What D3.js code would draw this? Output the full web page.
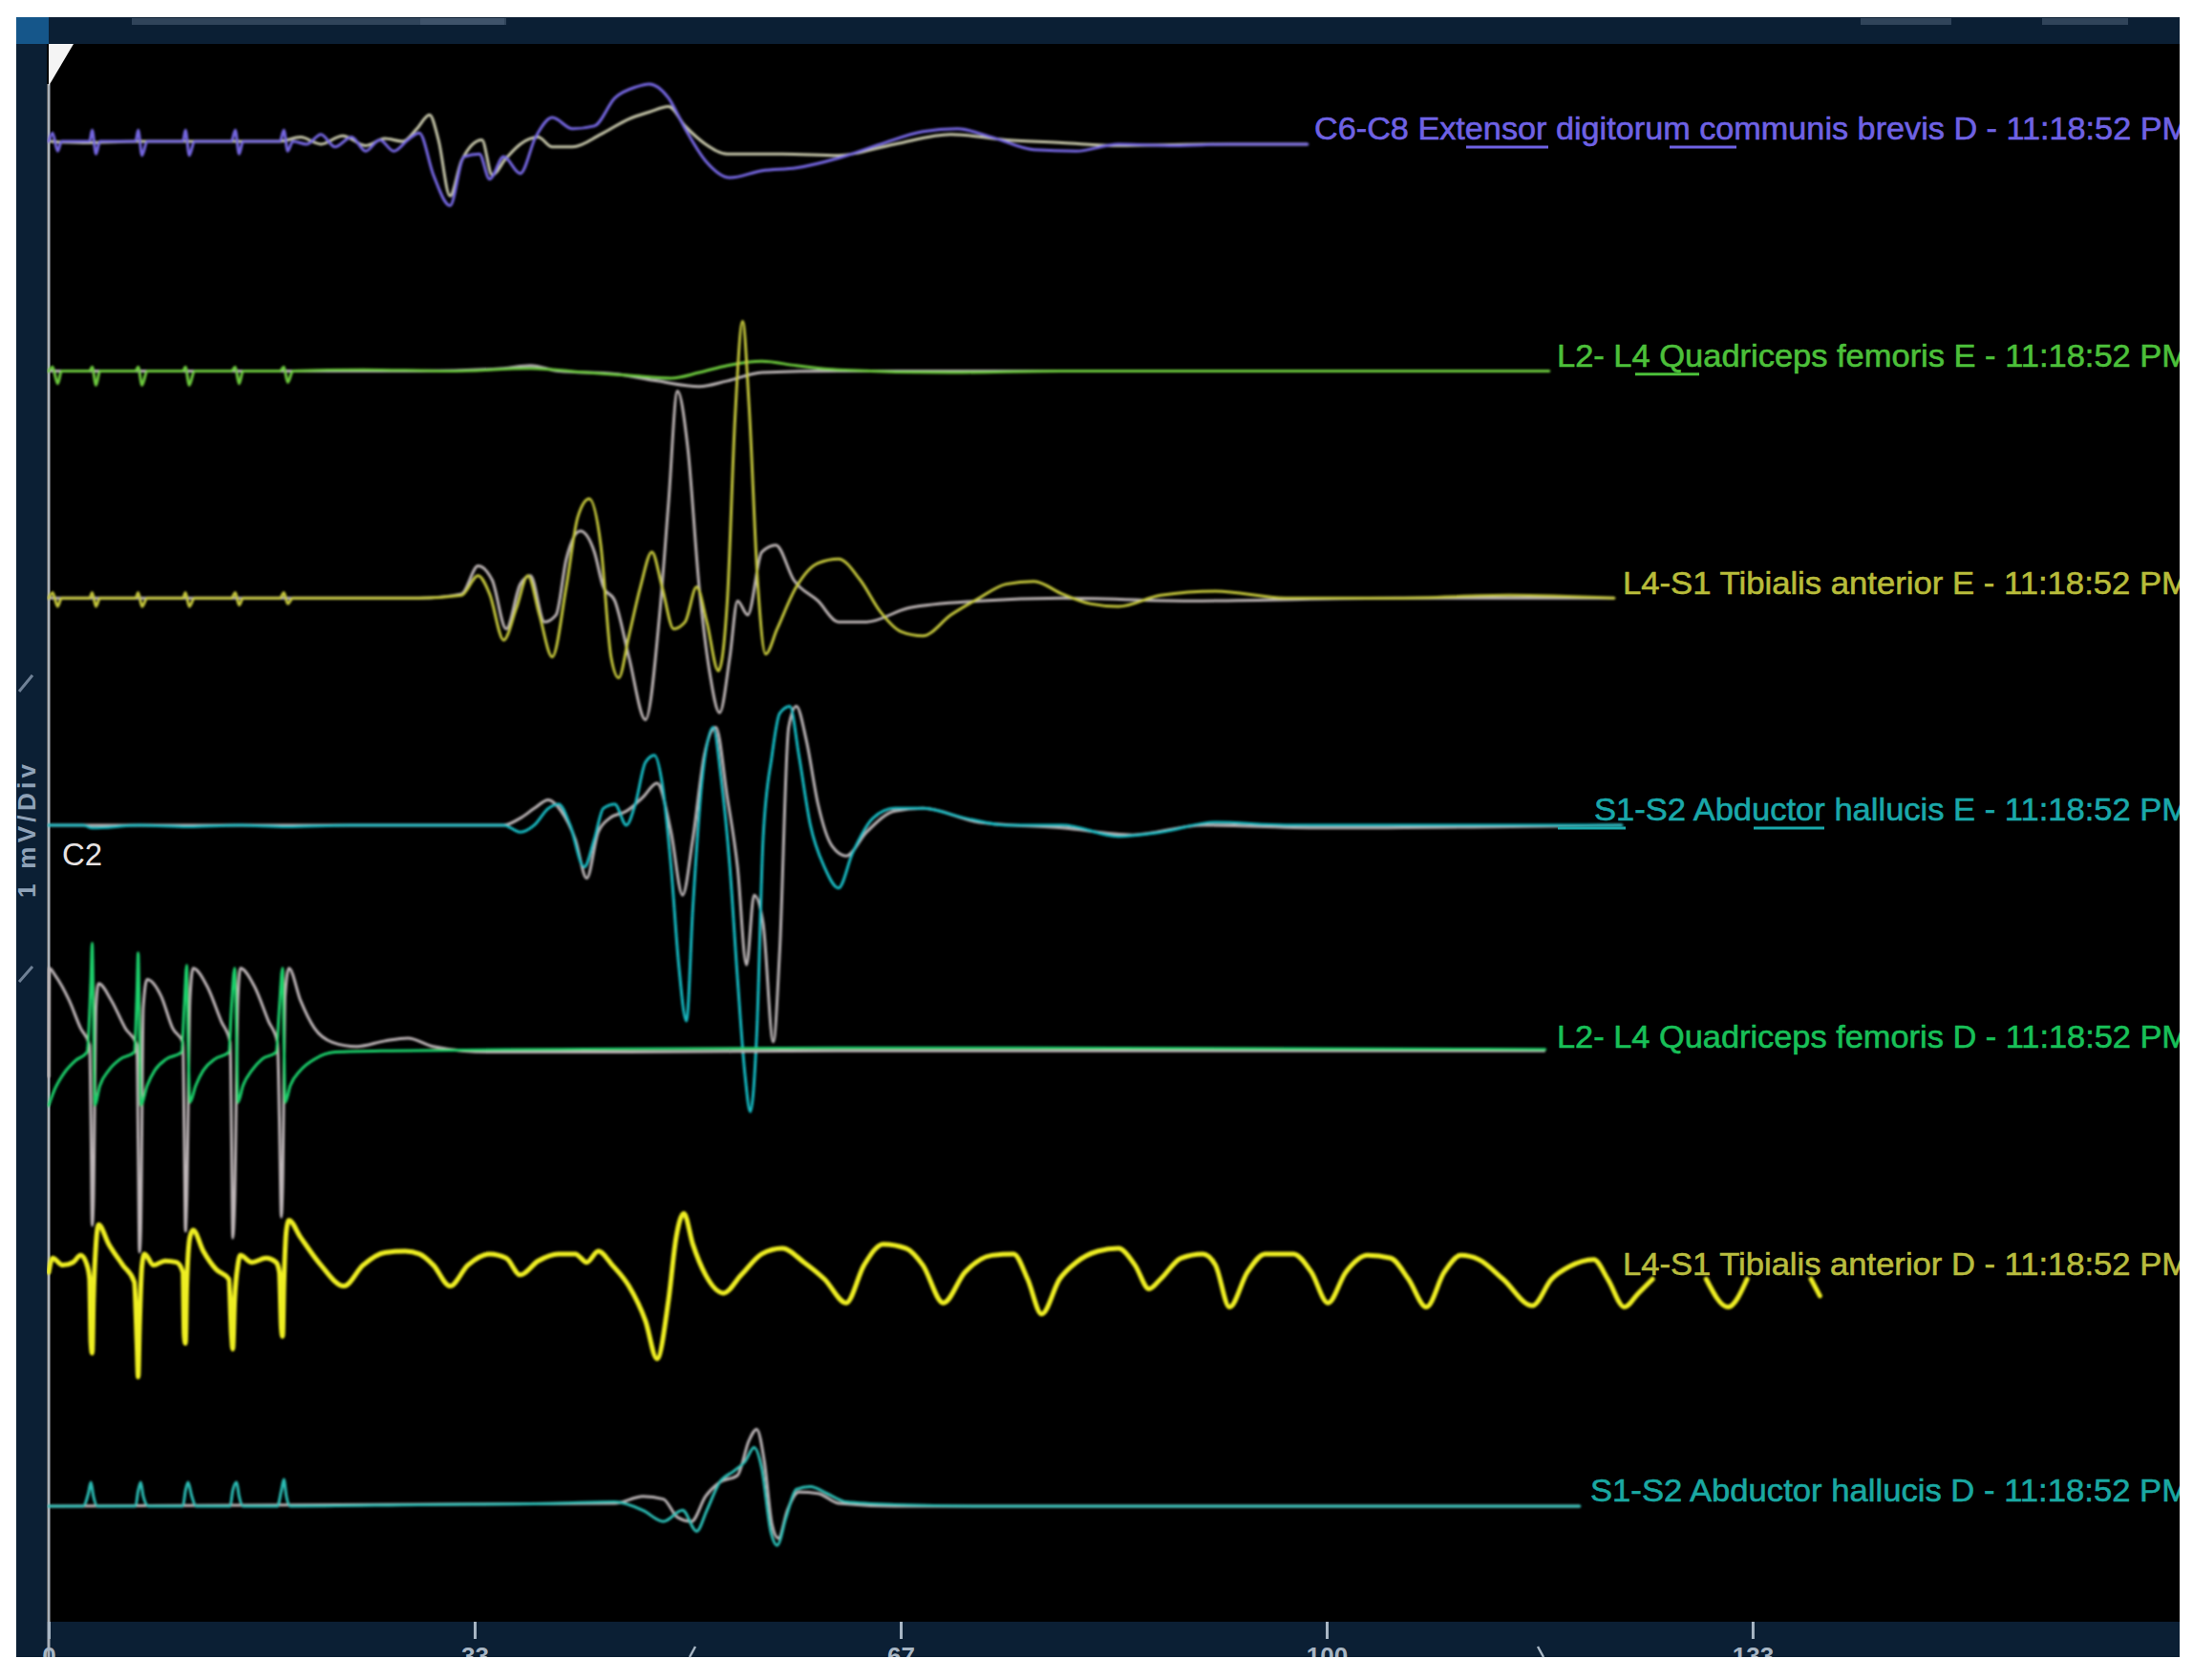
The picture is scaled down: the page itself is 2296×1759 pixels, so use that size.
<!DOCTYPE html>
<html>
<head>
<meta charset="utf-8">
<script src="https://cdn.jsdelivr.net/npm/d3@7"></script>
<style>
  html, body { margin: 0; padding: 0; background: #fff; }
  svg { display: block; }
  text { font-family: "Liberation Sans", Arial, sans-serif; }
</style>
</head>
<body>
<script>
// channels, top to bottom
let channels = [
  'C6-C8 Extensor digitorum communis brevis D',
  'L2- L4 Quadriceps femoris E',
  'L4-S1 Tibialis anterior E',
  'S1-S2 Abductor hallucis E',
  'L2- L4 Quadriceps femoris D',
  'L4-S1 Tibialis anterior D',
  'S1-S2 Abductor hallucis D'
]
let stamp = ' - 11:18:52 PM'

// time axis (ms)
let timeTicks = [0, 33.33, 66.67, 100, 133.33]
let timeLabels = ['0', '33', '67', '100', '133']

// traces: [ms, uV], current sweep and grey reference sweep
let edcD = [[0,0],[0.3,6],[0.7,-7],[1.0,0],[3.2,0],[3.4,8],[3.7,-9],[4.0,0],[6.8,0],[7.0,8],[7.3,-10],[7.7,0],[10.5,0],[10.7,8],[11.0,-10],[11.4,0],[14.3,0],[14.6,8],[14.9,-9],[15.2,0],[18.1,0],[18.4,8],[18.7,-7],[19.1,0],[20.2,-2],[21.3,5],[22.4,-4],[23.7,3],[24.8,-7],[25.9,1],[27.0,-7],[28.1,1],[29.0,6],[30.1,-24],[31.4,-46],[32.5,-11],[33.7,-9],[34.5,-27],[35.6,-11],[36.9,-23],[38.1,3],[39.4,17],[41.0,9],[42.7,11],[44.3,31],[46.0,39],[47.0,41],[48.5,31],[49.8,9],[51.4,-14],[53.3,-26],[55.8,-21],[58.5,-19],[61.8,-12],[65.1,-2],[68.4,7],[71.1,9],[73.8,3],[77.1,-6],[80.4,-7],[83.7,-2],[88.1,-3],[92.4,-2],[98.5,-2]]
let edcDref = [[0,0],[2.7,-1],[7.1,0],[11.5,0],[18.1,0],[19.7,3],[21.3,-2],[23.0,4],[24.8,-3],[26.3,2],[27.7,0],[28.8,9],[29.8,19],[30.5,1],[31.4,-39],[32.3,-14],[33.9,1],[34.7,-24],[35.8,-12],[36.9,-2],[38.3,3],[39.4,-4],[41.0,-4],[43.2,5],[45.4,16],[47.0,21],[48.5,25],[49.8,11],[51.4,-2],[53.1,-9],[57.4,-9],[61.8,-10],[66.2,-2],[70.6,5],[74.9,1],[79.3,-1],[83.7,-3],[90.3,-2],[98.5,-2]]

let quadE = [[0,-2],[0.3,1],[0.7,-11],[1.0,-2],[3.2,-2],[3.4,1],[3.7,-12],[4.0,-2],[6.8,-2],[7.0,1],[7.3,-12],[7.7,-2],[10.5,-2],[10.7,1],[11.0,-12],[11.4,-2],[14.3,-2],[14.6,1],[14.9,-11],[15.2,-2],[18.1,-2],[18.4,1],[18.7,-10],[19.1,-2],[24.6,-1],[31.2,-2],[37.7,0],[42.1,-3],[45.4,-5],[48.7,-7],[50.9,-3],[53.1,2],[55.8,5],[58.5,2],[61.8,-1],[70.6,-3],[79.3,-2],[94.6,-2],[117.4,-2]]
let quadEref = [[0,-2],[18.1,-2],[29.0,-2],[35.6,0],[37.7,2],[39.9,-2],[44.3,-4],[47.6,-9],[50.9,-13],[53.1,-9],[55.8,-3],[61.8,-2],[117.4,-2]]

let tibE = [[0,-2],[0.3,2],[0.7,-8],[1.0,-2],[3.2,-2],[3.4,2],[3.7,-8],[4.0,-2],[6.8,-2],[7.0,2],[7.3,-8],[7.7,-2],[10.5,-2],[10.7,2],[11.0,-8],[11.4,-2],[14.3,-2],[14.6,2],[14.9,-7],[15.2,-2],[18.1,-2],[18.4,2],[18.7,-6],[19.1,-2],[29.0,-2],[32.3,0],[33.6,14],[34.5,1],[35.6,-32],[36.6,-9],[37.5,14],[38.4,-14],[39.4,-44],[40.5,6],[41.4,56],[42.3,69],[43.2,36],[44.0,-44],[44.6,-59],[45.4,-29],[46.3,6],[47.2,31],[48.0,6],[48.9,-24],[49.8,-19],[50.7,6],[51.5,-19],[52.4,-54],[53.1,-4],[53.7,126],[54.3,196],[54.8,136],[55.5,6],[56.1,-42],[57.0,-24],[58.5,6],[60.2,23],[61.8,26],[63.5,11],[65.1,-12],[66.7,-26],[68.4,-29],[70.6,-14],[72.8,-2],[74.9,8],[77.1,10],[79.3,1],[81.5,-6],[83.7,-8],[87.0,0],[91.3,3],[96.8,-2],[105.6,-2],[114.3,0],[122.5,-2]]
let tibEref = [[0,-2],[19.1,-2],[29.0,-2],[32.3,1],[33.6,21],[34.7,11],[35.8,-24],[36.9,8],[37.7,14],[38.8,-19],[39.7,-14],[40.5,26],[41.6,46],[42.7,31],[43.4,6],[44.3,-4],[45.4,-44],[46.7,-89],[47.8,-14],[48.5,66],[49.2,146],[50.0,106],[50.9,6],[51.7,-54],[52.5,-84],[53.3,-44],[53.9,-4],[54.7,-14],[55.8,31],[56.9,36],[58.3,11],[60.2,-4],[61.8,-19],[64.0,-19],[67.3,-9],[72.8,-4],[79.3,-2],[89.2,-4],[105.6,-2],[122.5,-2]]

let abdE = [[0,-2],[2.7,-2],[3.4,-4],[7.1,-2],[10.9,-3],[14.8,-2],[18.6,-3],[23.5,-2],[35.6,-2],[36.9,-7],[38.0,-2],[39.1,10],[39.9,13],[40.8,-2],[41.9,-32],[42.7,-12],[43.4,10],[44.3,13],[45.2,-2],[45.9,13],[46.7,43],[47.4,48],[48.0,28],[48.7,-32],[49.3,-102],[49.9,-142],[50.4,-62],[51.1,28],[52.0,68],[52.6,33],[53.3,-32],[53.9,-112],[54.5,-182],[54.9,-207],[55.4,-152],[55.9,-12],[56.6,48],[57.2,78],[58.0,83],[58.7,48],[59.6,-2],[60.7,-32],[61.8,-47],[62.9,-22],[64.5,3],[66.2,10],[68.4,10],[71.7,3],[74.9,-2],[79.3,-2],[83.7,-10],[87.0,-7],[91.3,0],[96.8,-2],[105.6,-2],[123.1,-2]]
let abdEref = [[0,-2],[23.5,-2],[35.6,-2],[36.9,3],[38.0,10],[39.1,16],[40.1,8],[41.2,-12],[42.1,-40],[43.0,-7],[43.9,3],[45.2,8],[46.5,18],[47.6,28],[48.7,-7],[49.6,-52],[50.4,-12],[51.3,48],[52.2,68],[53.1,18],[53.9,-32],[54.6,-102],[55.2,-52],[55.9,-72],[56.7,-157],[57.2,-92],[57.9,68],[58.5,83],[59.3,58],[60.2,13],[61.3,-17],[62.4,-24],[64.0,-7],[66.2,8],[68.4,10],[72.8,0],[79.3,-4],[84.8,-9],[90.3,-2],[100.1,-4],[123.1,-2]]

let quadD = [[0,-40],[0.5,-28],[1.2,-17],[2.1,-8],[3.0,-2],[3.3,50],[3.4,76],[3.5,30],[3.6,-40],[4.0,-26],[4.7,-15],[5.6,-7],[6.7,-2],[6.9,40],[7.0,69],[7.1,20],[7.2,-40],[7.7,-26],[8.3,-15],[9.2,-7],[10.4,-2],[10.6,30],[10.8,60],[10.9,10],[11.05,-38],[11.5,-26],[12.1,-15],[13.0,-7],[14.1,-2],[14.3,30],[14.55,58],[14.7,10],[14.8,-38],[15.2,-26],[15.9,-15],[16.7,-7],[17.8,-2],[18.05,30],[18.3,58],[18.4,10],[18.5,-38],[18.9,-26],[19.7,-15],[20.8,-7],[22.4,-2],[26.8,-1],[39.9,0],[61.8,1],[117.1,0]]
let quadDref = [[0,-20],[0.05,58],[0.5,53],[1.6,35],[2.5,15],[3.2,3],[3.3,-50],[3.4,-126],[3.5,-110],[3.7,30],[3.9,47],[4.9,35],[6.0,15],[6.9,3],[7.0,-70],[7.1,-145],[7.2,-130],[7.4,30],[7.7,50],[8.8,38],[9.7,15],[10.5,5],[10.6,-60],[10.7,-130],[10.8,-110],[11.05,35],[11.3,58],[12.4,45],[13.5,20],[14.2,5],[14.3,-60],[14.4,-135],[14.55,-110],[14.8,35],[15.0,58],[16.1,45],[17.2,20],[17.9,5],[18.05,-50],[18.2,-120],[18.3,-100],[18.5,38],[18.8,58],[19.7,35],[20.8,15],[22.2,5],[24.1,2],[26.3,6],[28.1,8],[30.1,2],[34.5,-2],[45.4,-2],[61.8,-1],[83.7,-1],[117.1,-1]]

// no reference sweep on this channel; null marks a gap in the trace
let tibD = [[0,3],[0.3,13],[1.1,8],[1.9,10],[2.5,15],[3.0,8],[3.2,-2],[3.3,-47],[3.4,-55],[3.5,-17],[3.7,23],[3.9,37],[4.7,23],[5.8,8],[6.7,-4],[6.9,-47],[7.0,-72],[7.1,-37],[7.3,8],[7.5,16],[8.2,8],[9.1,11],[10.0,10],[10.5,3],[10.6,-42],[10.7,-48],[10.8,-7],[11.05,28],[11.3,33],[12.1,18],[13.1,5],[14.1,-2],[14.3,-42],[14.4,-52],[14.55,-17],[14.8,8],[15.0,15],[15.9,10],[17.0,13],[17.8,10],[18.05,3],[18.2,-37],[18.3,-43],[18.4,-7],[18.6,33],[18.8,40],[19.7,28],[21.3,8],[23.1,-7],[24.6,8],[26.3,17],[27.9,18],[29.0,16],[30.1,8],[31.4,-7],[32.8,8],[34.5,16],[35.8,13],[36.9,1],[38.3,11],[39.9,16],[41.2,16],[42.1,10],[43.0,18],[44.1,8],[45.4,-7],[46.7,-32],[47.6,-59],[48.5,-17],[49.1,28],[49.7,45],[50.4,23],[51.4,1],[52.8,-12],[54.2,1],[55.8,16],[57.4,20],[59.1,10],[60.7,-2],[62.4,-19],[63.8,8],[65.3,23],[67.1,20],[68.4,8],[70.0,-19],[71.7,3],[73.8,15],[75.5,16],[76.6,-2],[77.7,-27],[79.1,-2],[80.4,10],[82.1,18],[83.7,20],[85.0,8],[86.1,-9],[87.0,-2],[88.6,13],[90.3,16],[91.3,8],[92.4,-22],[93.8,3],[95.2,16],[97.4,16],[98.8,3],[100.1,-19],[101.5,3],[103.2,15],[105.0,13],[106.4,-2],[107.8,-22],[109.2,3],[110.5,15],[111.9,12],[113.8,-2],[116.1,-21],[117.6,-2],[119.0,7],[120.9,12],[122.0,-2],[123.3,-22],[124.4,-12],[125.5,-2],[126,null],[129.7,-2],[131.4,-22],[132.9,-2],[134,null],[137.9,-2],[138.6,-14]]

let abdD = [[0,-2],[2.7,-2],[3.1,7],[3.3,15],[3.5,5],[3.8,-2],[6.8,-2],[7.0,9],[7.2,15],[7.4,5],[7.8,-2],[10.5,-2],[10.7,9],[10.9,15],[11.2,5],[11.5,-2],[14.2,-2],[14.4,9],[14.7,15],[14.9,5],[15.2,-2],[17.9,-2],[18.2,9],[18.4,17],[18.6,5],[18.9,-2],[29.0,-1],[39.9,0],[44.3,1],[46.5,-5],[48.1,-13],[49.6,-5],[50.7,-20],[51.5,-5],[52.5,15],[53.6,23],[54.5,30],[55.2,40],[55.8,25],[56.5,-20],[57.0,-30],[57.7,-10],[58.5,10],[59.6,12],[60.9,7],[62.4,1],[66.2,-1],[72.8,-2],[119.8,-2]]
let abdDref = [[0,-2],[44.3,0],[46.5,5],[48.1,3],[49.2,-10],[50.3,-13],[51.4,5],[52.5,15],[53.9,20],[54.8,45],[55.4,53],[56.0,30],[56.6,-15],[57.1,-25],[57.8,-5],[58.7,8],[60.2,7],[61.8,0],[66.2,-2],[119.8,-2]]

// styles
let colors = ['#7466e0', '#6cc83c', '#c2c43a', '#18b8c0', '#1ccf6a', '#eeee22', '#2cbcb4']
let labelColors = ['#6f62e4', '#4cc03a', '#b8bc3a', '#1aa8aa', '#18c058', '#b8bc3e', '#1aa8a2']
let greys = ['#c4c4a8', '#b8b2b2', '#bab2b2', '#b8b2b4', '#bcb4b6', null, '#b8b2b4']
let labelX = [1376, 1630, 1699, 1669, 1630, 1699, 1665]

let sweeps = [edcD, quadE, tibE, abdE, quadD, tibD, abdD]
let refs = [edcDref, quadEref, tibEref, abdEref, quadDref, null, abdDref]

let W = 2296, H = 1759
let panel = {left: 17, top: 18, right: 2282, bottom: 1735}
let plot = {left: 49, top: 46, right: 2282, bottom: 1698}

let svg = d3.select('body').append('svg')
  .attr('width', W)
  .attr('height', H)

svg.append('rect').attr('width', W).attr('height', H).attr('fill', '#fff')

let defs = svg.append('defs')
defs.append('clipPath').attr('id', 'plotclip')
  .append('rect')
  .attr('x', plot.left).attr('y', plot.top)
  .attr('width', plot.right - plot.left).attr('height', plot.bottom - plot.top)
defs.append('clipPath').attr('id', 'panelclip')
  .append('rect')
  .attr('x', panel.left).attr('y', panel.top)
  .attr('width', panel.right - panel.left).attr('height', panel.bottom - panel.top)

// soft edges like the captured screen
defs.append('filter').attr('id', 'soft')
  .append('feGaussianBlur').attr('stdDeviation', 0.8)

// frame of the acquisition window
svg.append('rect')
  .attr('x', panel.left).attr('y', panel.top)
  .attr('width', panel.right - panel.left).attr('height', panel.bottom - panel.top)
  .attr('fill', '#0b1f34')

svg.append('rect')
  .attr('x', panel.left).attr('y', panel.top)
  .attr('width', 34).attr('height', 28)
  .attr('fill', '#15568a')

// faint tabs in the header
;[[138, 390], [440, 90], [1948, 95], [2138, 90]].forEach(function (t) {
  svg.append('rect')
    .attr('x', t[0]).attr('y', panel.top + 1)
    .attr('width', t[1]).attr('height', 7)
    .attr('fill', '#4a5e74').attr('opacity', 0.6)
})

svg.append('rect')
  .attr('x', plot.left).attr('y', plot.top)
  .attr('width', plot.right - plot.left).attr('height', plot.bottom - plot.top)
  .attr('fill', '#000')

let x = d3.scaleLinear().domain([0, 166.67]).range([51, 2281])
let chanY = d3.scalePoint().domain(channels).range([148, 1574])
let amp = d3.scaleLinear().domain([0, 100]).range([0, -146.4])

// vertical reference line and marker
svg.append('line')
  .attr('x1', x(0)).attr('x2', x(0))
  .attr('y1', 88).attr('y2', panel.bottom)
  .attr('stroke', '#a9b0b8').attr('stroke-width', 3)

svg.append('path')
  .attr('d', 'M' + x(0) + ',' + plot.top + 'L' + (x(0) + 26) + ',' + plot.top + 'L' + x(0) + ',' + 90 + 'Z')
  .attr('fill', '#f4f4f4')

// left strip: gain and arrows
svg.append('text')
  .attr('transform', 'translate(37,940) rotate(-90)')
  .attr('fill', '#8fa2b8')
  .attr('font-size', 26)
  .attr('font-weight', 'bold')
  .attr('textLength', 140)
  .text('1 mV/Div')

svg.append('line').attr('x1', 20).attr('y1', 724).attr('x2', 34).attr('y2', 707)
  .attr('stroke', '#6f8196').attr('stroke-width', 3)
svg.append('line').attr('x1', 20).attr('y1', 1028).attr('x2', 34).attr('y2', 1012)
  .attr('stroke', '#6f8196').attr('stroke-width', 3)

svg.append('text')
  .attr('x', 65).attr('y', 906)
  .attr('fill', '#e6e2e2')
  .attr('font-size', 33)
  .text('C2')

let traces = svg.append('g')
  .attr('clip-path', 'url(#plotclip)')
  .append('g')
  .attr('filter', 'url(#soft)')

function lineFor(ch) {
  return d3.line()
    .defined(function (d) { return d[1] != null })
    .x(function (d) { return x(d[0]) })
    .y(function (d) { return chanY(ch) + amp(d[1]) })
    .curve(d3.curveMonotoneX)
}

channels.forEach(function (ch, i) {
  let line = lineFor(ch)
  if (refs[i]) {
    traces.append('path')
      .datum(refs[i])
      .attr('d', line)
      .attr('fill', 'none')
      .attr('stroke', greys[i])
      .attr('stroke-width', 3)
      .attr('stroke-linejoin', 'round')
  }
  traces.append('path')
    .datum(sweeps[i])
    .attr('d', line)
    .attr('fill', 'none')
    .attr('stroke', colors[i])
    .attr('stroke-width', i == 5 ? 5 : 3)
    .attr('stroke-linejoin', 'round')
    .attr('stroke-linecap', 'round')
})

// channel labels
let labels = svg.append('g').attr('clip-path', 'url(#plotclip)')
channels.forEach(function (ch, i) {
  labels.append('text')
    .attr('x', labelX[i])
    .attr('y', chanY(ch) - 14)
    .attr('dy', '0.36em')
    .attr('fill', labelColors[i])
    .attr('stroke', labelColors[i])
    .attr('stroke-width', 0.6)
    .attr('font-size', 34)
    .style('font-family', '"Liberation Sans Narrow", "Liberation Sans", Arial, sans-serif')
    .attr('textLength', 2292 - labelX[i])
    .attr('lengthAdjust', 'spacingAndGlyphs')
    .text(ch + stamp)
})

// spell-check style underlines
;[[0, 1535, 1621], [0, 1748, 1818], [1, 1712, 1779], [3, 1631, 1702], [3, 1836, 1910]].forEach(function (u) {
  let y = chanY(channels[u[0]]) - 14 + 20
  labels.append('line')
    .attr('x1', u[1]).attr('x2', u[2])
    .attr('y1', y).attr('y2', y)
    .attr('stroke', labelColors[u[0]])
    .attr('stroke-width', 3)
})

// time axis in the bottom bar
let axisG = svg.append('g')
  .attr('clip-path', 'url(#panelclip)')
  .append('g')
  .attr('transform', 'translate(0,' + plot.bottom + ')')
  .call(d3.axisBottom(x)
    .tickValues(timeTicks)
    .tickFormat(function (d, i) { return timeLabels[i] })
    .tickSize(18)
    .tickPadding(9))

axisG.select('.domain').remove()
axisG.selectAll('line').attr('stroke', '#a8b6c4').attr('stroke-width', 3)
axisG.selectAll('text')
  .attr('fill', '#a8b6c4')
  .attr('font-size', 26)
  .attr('font-weight', 'bold')
  .style('font-family', '"Liberation Sans", Arial, sans-serif')

// cursor marks on the bottom bar
svg.append('line').attr('x1', 722).attr('y1', 1735).attr('x2', 728).attr('y2', 1724)
  .attr('stroke', '#a8b6c4').attr('stroke-width', 2.5)
svg.append('line').attr('x1', 1610).attr('y1', 1724).attr('x2', 1616).attr('y2', 1735)
  .attr('stroke', '#a8b6c4').attr('stroke-width', 2.5)
</script>
</body>
</html>
